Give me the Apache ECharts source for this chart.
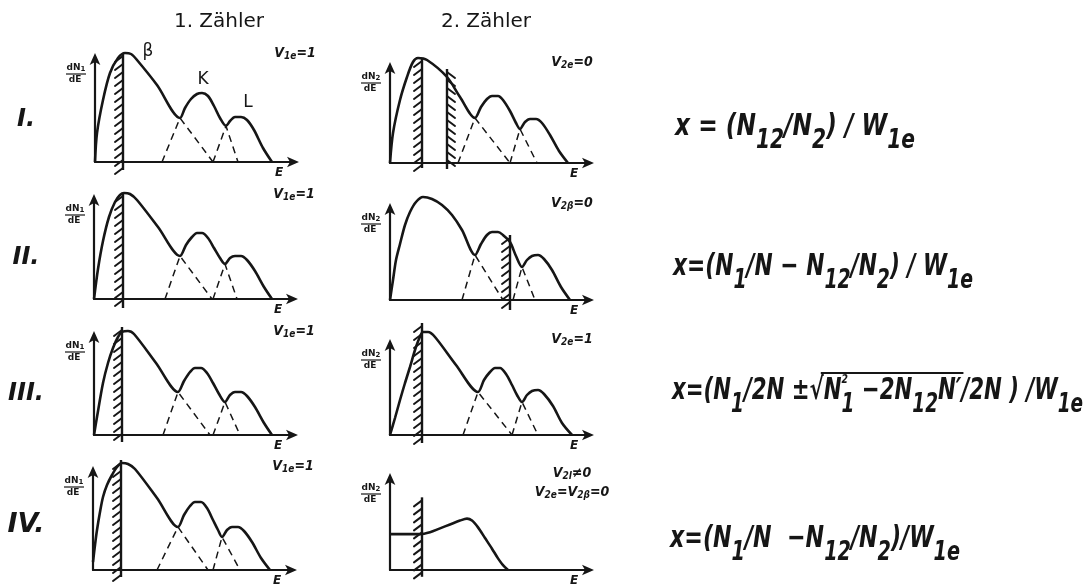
<!DOCTYPE html>
<html>
<head>
<meta charset="utf-8">
<script src="https://cdn.jsdelivr.net/npm/echarts@6/dist/echarts.min.js"></script>
<style>
html, body { margin: 0; background: #fff; }
#main { width: 1090px; height: 587px; }
</style>
</head>
<body>
<div id="main"></div>
<script>
// spectra: x = energy E, y = dN/dE (units)
// row I
var spec1a = [[0,0],[2,29],[8,62],[15,89],[23,104],[30,109],[36,108],[42,102],[62,77],[85,44],[90,54],[96,63],[102,68],[107,69],[113,66],[119,56],[125,44],[131,36],[135,41],[140,45],[146,45],[152,42],[159,32],[168,14],[177,0]];
var spec1b = [[0,0],[3,30],[10,63],[17,86],[23,101],[28,105],[37,103],[57,86],[70,66],[85,45],[91,56],[97,64],[102,67],[108,67],[113,63],[120,52],[126,40],[130,34],[135,41],[140,44],[146,44],[152,40],[160,28],[169,12],[178,0]];
// row II
var spec2a = [[0,0],[4,30],[9,58],[15,82],[21,97],[26,104],[30,106],[36,105],[43,99],[64,72],[86,43],[92,54],[98,62],[103,66],[108,66],[114,61],[120,51],[126,41],[131,35],[136,41],[141,43],[147,43],[153,39],[161,28],[170,12],[178,0]];
var spec2b = [[0,0],[3,20],[6,40],[10,56],[15,75],[20,88],[26,98],[33,103],[42,101],[52,95],[62,85],[72,70],[85,45],[91,56],[97,65],[102,68],[108,68],[113,65],[120,58],[126,44],[132,33],[137,40],[142,44],[148,45],[154,41],[162,30],[171,13],[180,0]];
// row III
var spec3a = [[0,0],[3,18],[9,52],[14,72],[19,87],[24,98],[28,103],[34,104],[40,101],[62,72],[84,43],[90,54],[96,63],[101,67],[107,67],[113,62],[119,52],[125,41],[131,33],[136,40],[141,43],[147,43],[153,39],[161,28],[170,12],[178,0]];
var spec3b = [[0,0],[5,17],[10,35],[15,52],[20,68],[25,85],[29,96],[33,103],[38,103],[45,98],[66,70],[88,43],[94,55],[100,63],[105,67],[110,67],[116,61],[122,50],[127,40],[132,33],[137,40],[142,44],[148,45],[154,41],[163,29],[172,12],[182,0]];
// row IV
var spec4a = [[0,8],[2,25],[4,40],[7,58],[10,73],[14,85],[19,95],[24,103],[29,107],[35,106],[42,101],[64,72],[85,43],[91,55],[97,64],[102,68],[108,68],[114,62],[120,50],[125,40],[129,33],[134,40],[139,43],[145,43],[151,39],[159,28],[168,12],[177,0]];
var spec4b = [[0,37],[15,37],[30,37],[40,39],[50,43],[60,47],[70,51],[77,53],[82,51],[88,44],[95,33],[102,22],[108,12],[113,5],[118,0]];

// dashed component tails (K under beta, L under K)
var dash1a = [[[67,0],[85,44],[118,0]], [[118,0],[131,36],[143,0]]];
var dash1b = [[[68,0],[85,45],[120,0]], [[120,0],[130,34],[147,0]]];
var dash2a = [[[71,0],[86,43],[118,0]], [[119,0],[131,35],[143,0]]];
var dash2b = [[[72,0],[85,45],[113,0]], [[123,0],[132,33],[145,0]]];
var dash3a = [[[69,0],[84,43],[116,0]], [[119,0],[131,33],[146,0]]];
var dash3b = [[[73,0],[88,43],[122,0]], [[122,0],[132,33],[148,0]]];
var dash4a = [[[64,0],[85,43],[115,0]], [[120,0],[129,33],[147,0]]];
var dash4b = [];

// discriminator thresholds: [E, top, bottom, hatch side]
var cut1a = [[28,109,-8,-1]];
var cut1b = [[32,105,-5,-1],[57,94,-6,1]];
var cut2a = [[29,106,-9,-1]];
var cut2b = [[120,65,-10,-1]];
var cut3a = [[28,108,-7,-1]];
var cut3b = [[32,112,-8,-1]];
var cut4a = [[28,110,-7,-1]];
var cut4b = [[32,75,-7,-1]];

var counterTitles = ['1. Zähler', '2. Zähler'];
var rowNames = ['I.', 'II.', 'III.', 'IV.'];
var vLabels = [
  ['{v|V}{s|1e}{v|=1}'], ['{v|V}{s|2e}{v|=0}'],
  ['{v|V}{s|1e}{v|=1}'], ['{v|V}{s|2β}{v|=0}'],
  ['{v|V}{s|1e}{v|=1}'], ['{v|V}{s|2e}{v|=1}'],
  ['{v|V}{s|1e}{v|=1}'], ['{v|V}{s|2l}{v|≠0}', '{v|V}{s|2e}{v|=V}{s|2β}{v|=0}']
];
var peakNames = ['β', 'K', 'L'];
// formula pieces: [style, text]  m = main, s = subscript, p = exponent
var formula1 = [['m','x = (N'],['s','12'],['m','/N'],['s','2'],['m',') / W'],['s','1e']];
var formula2 = [['m','x=(N'],['s','1'],['m','/N − N'],['s','12'],['m','/N'],['s','2'],['m',') / W'],['s','1e']];
var formula3 = [['m','x=(N'],['s','1'],['m','/2N ±√'],['m','N'],['s','1'],['p','2'],['m',' −2N'],['s','12'],['m','N′'],['m','/2N ) /W'],['s','1e']];
var formula4 = [['m','x=(N'],['s','1'],['m','/N  −N'],['s','12'],['m','/N'],['s','2'],['m',')/W'],['s','1e']];

var ink = '#161616';
var specs = [spec1a, spec1b, spec2a, spec2b, spec3a, spec3b, spec4a, spec4b];
var dashes = [dash1a, dash1b, dash2a, dash2b, dash3a, dash3b, dash4a, dash4b];
var cuts = [cut1a, cut1b, cut2a, cut2b, cut3a, cut3b, cut4a, cut4b];
// panel layout: y-axis position, baseline, axis height
var frames = [
  {left: 95, base: 162, h: 105}, {left: 390, base: 163, h: 97},
  {left: 94, base: 299, h: 101}, {left: 390, base: 300, h: 93},
  {left: 94, base: 435, h: 100}, {left: 390, base: 435, h: 92},
  {left: 93, base: 570, h: 100}, {left: 390, base: 573, h: 96}
];

var myChart = echarts.init(document.getElementById('main'));

function hatchItem(params, api) {
  var top = api.coord([api.value(0), api.value(1)]);
  var bot = api.coord([api.value(0), api.value(2)]);
  var side = api.value(3);
  var kids = [{
    type: 'line',
    shape: {x1: top[0], y1: top[1], x2: bot[0], y2: bot[1]},
    style: {stroke: ink, lineWidth: 2.4}
  }];
  for (var y = top[1] + 3; y < bot[1] - 1; y += 8) {
    kids.push({
      type: 'line',
      shape: {x1: top[0], y1: y, x2: top[0] + side * 8, y2: y + 6},
      style: {stroke: ink, lineWidth: 2, lineCap: 'round'}
    });
  }
  return {type: 'group', children: kids};
}

var grid = [], xAxis = [], yAxis = [], series = [], graphic = [];
var axisLine = {
  show: true,
  symbol: ['none', 'arrow'],
  symbolSize: [8, 12],
  symbolOffset: [0, 4],
  lineStyle: {color: ink, width: 2.2}
};

frames.forEach(function (f, i) {
  grid.push({left: f.left, top: f.base - f.h, width: 200, height: f.h});
  xAxis.push({
    gridIndex: i, type: 'value', min: 0, max: 200,
    axisLine: axisLine, axisTick: {show: false}, axisLabel: {show: false}, splitLine: {show: false},
    name: 'E', nameLocation: 'end', nameGap: -16,
    nameTextStyle: {color: ink, fontFamily: 'DejaVu Sans', fontStyle: 'italic', fontWeight: 'bold',
      fontSize: 12, align: 'center', verticalAlign: 'top', padding: [5, 0, 0, 0]}
  });
  yAxis.push({
    gridIndex: i, type: 'value', min: 0, max: f.h,
    axisLine: axisLine, axisTick: {show: false}, axisLabel: {show: false}, splitLine: {show: false}
  });
  series.push({
    type: 'line', xAxisIndex: i, yAxisIndex: i, data: specs[i],
    showSymbol: false, smooth: 0.3, clip: false, z: 3,
    lineStyle: {color: ink, width: 2.6}
  });
  if (dashes[i].length) {
    series.push({
      type: 'lines', coordinateSystem: 'cartesian2d', xAxisIndex: i, yAxisIndex: i,
      polyline: true, silent: true, z: 2,
      data: dashes[i].map(function (c) { return {coords: c}; }),
      lineStyle: {color: ink, width: 1.5, type: [7, 5], opacity: 1}
    });
  }
  series.push({
    type: 'custom', xAxisIndex: i, yAxisIndex: i, data: cuts[i],
    renderItem: hatchItem, clip: false, silent: true, z: 4,
    encode: {x: 0, y: [1, 2]}
  });

  // dN/dE fraction at the y axis
  var col = i % 2, n = col + 1;
  graphic.push({
    type: 'group', x: f.left - 19, y: f.base - f.h + 17,
    children: [
      {type: 'text', style: {text: '{a|dN}{b|' + n + '}', x: 0, y: -1, align: 'center', verticalAlign: 'bottom',
        rich: {a: {fontSize: 9, fontWeight: 'bold', fontFamily: 'DejaVu Sans', fill: ink, verticalAlign: 'bottom', padding: [0, 0, 1, 0]},
               b: {fontSize: 7, fontWeight: 'bold', fontFamily: 'DejaVu Sans', fill: ink, verticalAlign: 'bottom'}}}},
      {type: 'line', shape: {x1: -10, y1: 0, x2: 10, y2: 0}, style: {stroke: ink, lineWidth: 1.2}},
      {type: 'text', style: {text: 'dE', x: -1, y: 1, align: 'center', verticalAlign: 'top',
        font: 'bold 9px "DejaVu Sans"', fill: ink}}
    ]
  });

  // counting condition labels
  vLabels[i].forEach(function (t, k) {
    graphic.push({
      type: 'text', x: f.left + (col ? 182 : 200), y: f.base - f.h - 4 + k * 19,
      style: {text: t, align: 'center', verticalAlign: 'middle',
        rich: {v: {fontSize: 14, fontStyle: 'italic', fontWeight: 'bold', fontFamily: 'DejaVu Sans Condensed', fill: ink},
               s: {fontSize: 10, fontStyle: 'italic', fontWeight: 'bold', fontFamily: 'DejaVu Sans Condensed', fill: ink, padding: [6, 0, 0, 0]}}}
    });
  });
});

counterTitles.forEach(function (t, c) {
  graphic.push({type: 'text', x: c ? 486 : 219, y: 22,
    style: {text: t, align: 'center', verticalAlign: 'middle', font: '20px "DejaVu Sans"', fill: ink}});
});
rowNames.forEach(function (t, r) {
  graphic.push({type: 'text', x: 26, y: [120, 258, 394, 525][r],
    style: {text: t, align: 'center', verticalAlign: 'middle', font: 'italic bold ' + (r === 3 ? 27 : 24) + 'px "DejaVu Sans"', fill: ink}});
});
var peakAt = [[148, 52], [203, 80], [248, 103]];
peakNames.forEach(function (t, k) {
  graphic.push({type: 'text', x: peakAt[k][0], y: peakAt[k][1],
    style: {text: t, align: 'center', verticalAlign: 'middle', font: '17px "DejaVu Sans"', fill: ink}});
});

// formulas, built piece by piece and squeezed to the span of the drawing
var mathStyle = {m: {size: 30, dy: 0}, s: {size: 26, dy: 13}, p: {size: 13, dy: -16}};
var measure = document.createElement('canvas').getContext('2d');
function fontOf(k) { return 'italic bold ' + mathStyle[k].size + 'px "DejaVu Sans"'; }
function widthOf(p) { measure.font = fontOf(p[0]); return measure.measureText(p[1]).width; }
var formulas = [formula1, formula2, formula3, formula4];
var formulaSpan = [[675, 915, 135], [673, 973, 275], [672, 1083, 399], [670, 960, 547]];
formulas.forEach(function (pieces, k) {
  var total = 0;
  pieces.forEach(function (p) { if (p[0] !== 'p') total += widthOf(p); });
  var sx = (formulaSpan[k][1] - formulaSpan[k][0]) / total;
  var x = formulaSpan[k][0], base = formulaSpan[k][2];
  var prevStart = x, rootFrom = null, rootTo = null;
  pieces.forEach(function (p, j) {
    var st = mathStyle[p[0]];
    var px = p[0] === 'p' ? prevStart : x;
    if (j > 0 && pieces[j - 1][1].slice(-1) === '√') rootFrom = x;
    graphic.push({type: 'text', x: px, y: base + st.dy - 0.27 * st.size, scaleX: sx,
      style: {text: p[1], font: fontOf(p[0]), fill: ink, align: 'left', verticalAlign: 'middle'}});
    if (p[0] !== 'p') {
      prevStart = x;
      x += widthOf(p) * sx;
    }
    if (p[1] === 'N′') rootTo = x;
  });
  if (rootFrom !== null) {
    graphic.push({type: 'line', shape: {x1: rootFrom - 3, y1: base - 26, x2: rootTo + 2, y2: base - 26},
      style: {stroke: ink, lineWidth: 2.2}});
  }
});

myChart.setOption({
  backgroundColor: '#fff',
  animation: false,
  grid: grid,
  xAxis: xAxis,
  yAxis: yAxis,
  series: series,
  graphic: graphic
});
</script>
</body>
</html>
